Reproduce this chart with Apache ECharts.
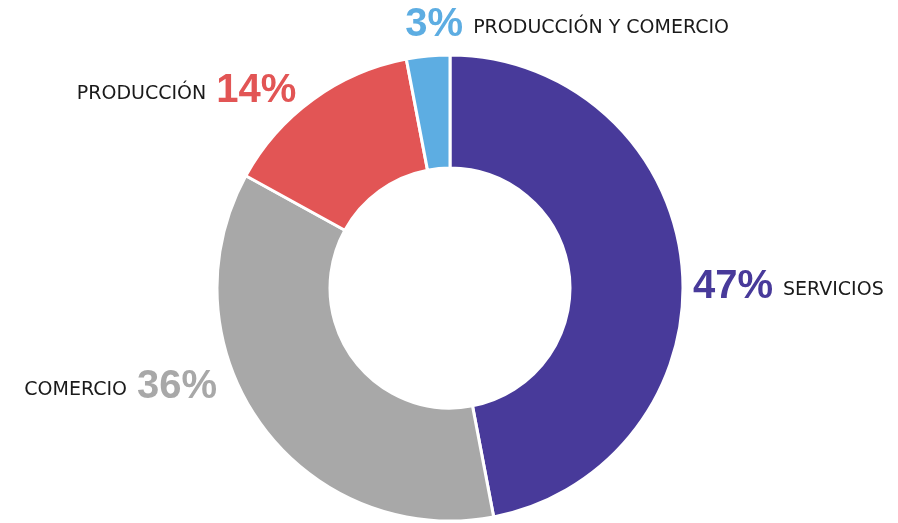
<!DOCTYPE html>
<html><head><meta charset="utf-8">
<script src="https://cdn.jsdelivr.net/npm/echarts@6/dist/echarts.min.js"></script>
<style>html,body{margin:0;padding:0;background:#fff}#c{width:898px;height:523px}</style>
</head><body><div id="c"></div>
<script>
const categories = ['SERVICIOS', 'COMERCIO', 'PRODUCCIÓN', 'PRODUCCIÓN Y COMERCIO'];
const values = [47, 36, 14, 3];
const colors = ['#483A9A', '#A8A8A8', '#E25555', '#5DADE2'];
const labelSide = ['right', 'left', 'left', 'right'];
// label nudges relative to the library's outside-label placement
const labelNudge = [[-2, 22], [-33, -43], [-7, -2], [-17, -23]];

const chart = echarts.init(document.getElementById('c'));
chart.setOption({
  animation: false,
  series: [{
    type: 'pie',
    center: [450, 288],
    radius: [120, 233],
    startAngle: 90,
    clockwise: true,
    avoidLabelOverlap: false,
    itemStyle: { borderColor: '#fff', borderWidth: 3 },
    labelLine: { show: false, length: 8, length2: 0 },
    labelLayout: function (p) {
      const i = p.dataIndex;
      return { dx: labelNudge[i][0], dy: labelNudge[i][1], align: labelSide[i] === 'right' ? 'left' : 'right' };
    },
    label: {
      show: true,
      position: 'outside',
      rich: {
        n: { fontFamily: 'DejaVu Sans', fontSize: 19, color: '#1a1a1a', padding: [6, 0, 0, 0] },
        sp: { width: 10 }
      }
    },
    data: categories.map((name, i) => ({
      name, value: values[i],
      itemStyle: { color: colors[i] },
      label: {
        formatter: labelSide[i] === 'right'
          ? '{p|{c}%}{sp|}{n|{b}}'
          : '{n|{b}}{sp|}{p|{c}%}',
        rich: { p: { fontFamily: 'Liberation Sans', fontWeight: 'bold', fontSize: 40, color: colors[i] } }
      }
    }))
  }]
});
</script></body></html>
